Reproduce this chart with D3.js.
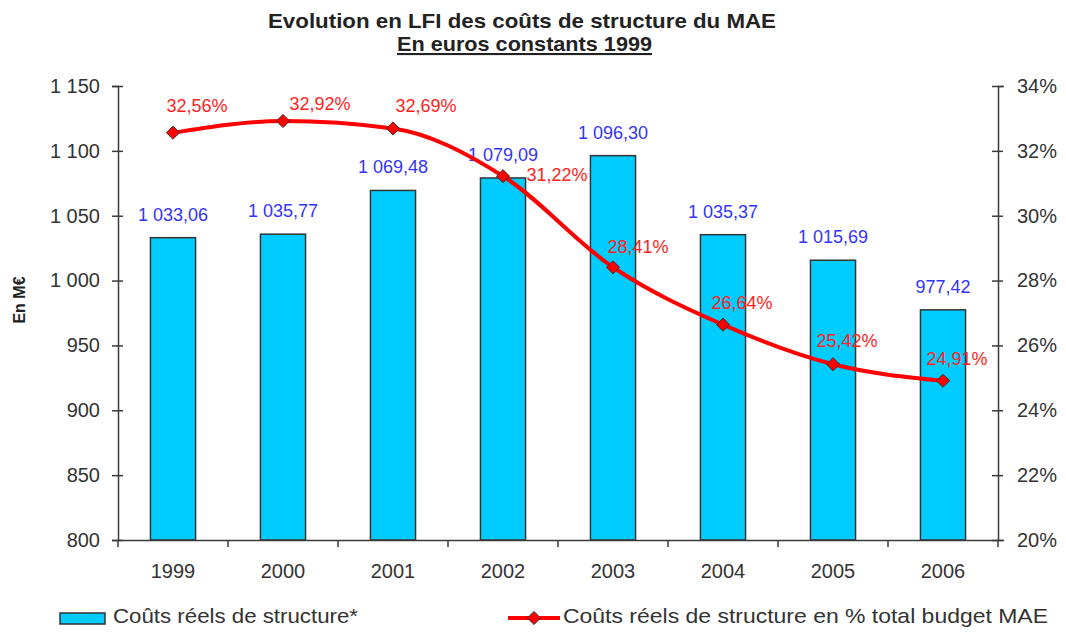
<!DOCTYPE html>
<html>
<head>
<meta charset="utf-8">
<script src="https://cdn.jsdelivr.net/npm/d3@7"></script>
<style>
  body { margin: 0; background: #fff; }
  svg text { font-family: "Liberation Sans", Arial, sans-serif; }
</style>
</head>
<body>
<div id="chart"></div>
<script>
// data
const years = ["1999", "2000", "2001", "2002", "2003", "2004", "2005", "2006"];
const costs = [1033.06, 1035.77, 1069.48, 1079.09, 1096.30, 1035.37, 1015.69, 977.42];
const shares = [32.56, 32.92, 32.69, 31.22, 28.41, 26.64, 25.42, 24.91];
const leftTicks = [800, 850, 900, 950, 1000, 1050, 1100, 1150];
const rightTicks = [20, 22, 24, 26, 28, 30, 32, 34];

const fr = d3.formatLocale({ decimal: ",", thousands: " ", grouping: [3], currency: ["", " €"] });
const fmtInt = fr.format(",d");
const fmtVal = fr.format(",.2f");
const fmtPct = fr.format(".2f");

let width = 1066, height = 632;
let margin = { top: 86, right: 68, bottom: 92, left: 118 };
let w = width - margin.left - margin.right,
    h = height - margin.top - margin.bottom;

let svg = d3.select('#chart').append('svg')
  .attr('width', width)
  .attr('height', height);

let g = svg.append('g')
  .attr('transform', 'translate(' + margin.left + ',' + margin.top + ')');

let x = d3.scaleBand().domain(years).range([0, w]).paddingInner(0.59).paddingOuter(0.295);
let y = d3.scaleLinear().domain([800, 1150]).range([h, 0]);
let y2 = d3.scaleLinear().domain([20, 34]).range([h, 0]);

const axisColor = '#3a3a3a';
const textColor = '#333';

// title (the original font is a bit wider than Arial, hence textLength)
svg.append('text')
  .attr('x', 268).attr('y', 28)
  .attr('textLength', 508).attr('lengthAdjust', 'spacingAndGlyphs')
  .style('font-size', '21px').style('font-weight', 'bold').style('fill', '#222')
  .text('Evolution en LFI des coûts de structure du MAE');
svg.append('text')
  .attr('x', 397).attr('y', 51)
  .attr('textLength', 255).attr('lengthAdjust', 'spacingAndGlyphs')
  .style('font-size', '21px').style('font-weight', 'bold').style('fill', '#222')
  .style('text-decoration', 'underline')
  .text('En euros constants 1999');

// bars
g.selectAll('rect.bar')
  .data(costs)
  .enter().append('rect')
  .attr('class', 'bar')
  .attr('x', (d, i) => x(years[i]))
  .attr('y', d => y(d))
  .attr('width', x.bandwidth())
  .attr('height', d => h - y(d))
  .attr('fill', '#00ccff')
  .attr('stroke', '#333')
  .attr('stroke-width', 1.5);

// bar labels
g.selectAll('text.val')
  .data(costs)
  .enter().append('text')
  .attr('class', 'val')
  .attr('x', (d, i) => x(years[i]) + x.bandwidth() / 2)
  .attr('y', d => y(d) - 17)
  .attr('text-anchor', 'middle')
  .style('font-size', '18px').style('fill', '#3333ff')
  .text(d => fmtVal(d));

// left axis
let yAxis = d3.axisLeft(y).tickValues(leftTicks).tickSize(6).tickPadding(12).tickFormat(fmtInt);
let gy = g.append('g').call(yAxis);
gy.select('.domain').attr('stroke', axisColor).attr('stroke-width', 1.5);
gy.selectAll('.tick line').attr('x1', -6).attr('x2', 5).attr('stroke', axisColor).attr('stroke-width', 1.5);
gy.selectAll('.tick text').style('font-size', '20px').style('fill', textColor).style('font-family', '"Liberation Sans", Arial, sans-serif');

// right axis
let y2Axis = d3.axisRight(y2).tickValues(rightTicks).tickSize(6).tickPadding(13).tickFormat(d => d + '%');
let gy2 = g.append('g').attr('transform', 'translate(' + w + ',0)').call(y2Axis);
gy2.select('.domain').attr('stroke', axisColor).attr('stroke-width', 1.5);
gy2.selectAll('.tick line').attr('x1', -6).attr('x2', 5).attr('stroke', axisColor).attr('stroke-width', 1.5);
gy2.selectAll('.tick text').style('font-size', '20px').style('fill', textColor).style('font-family', '"Liberation Sans", Arial, sans-serif');

// bottom axis: labels at band centres, ticks at band edges
let xAxis = d3.axisBottom(x).tickSize(0).tickPadding(24);
let gx = g.append('g').attr('transform', 'translate(0,' + h + ')').call(xAxis);
gx.select('.domain').attr('stroke', axisColor).attr('stroke-width', 1.5);
gx.selectAll('.tick text').style('font-size', '20px').style('fill', textColor).style('font-family', '"Liberation Sans", Arial, sans-serif');
gx.selectAll('line.edge')
  .data(d3.range(years.length + 1))
  .enter().append('line')
  .attr('class', 'edge')
  .attr('x1', i => i * x.step()).attr('x2', i => i * x.step())
  .attr('y1', 0).attr('y2', 7)
  .attr('stroke', axisColor).attr('stroke-width', 1.5);

// y title
svg.append('text')
  .attr('transform', 'translate(25,300) rotate(-90)')
  .attr('text-anchor', 'middle')
  .style('font-size', '16px').style('font-weight', 'bold').style('fill', '#222')
  .text('En M€');

// share line
let line = d3.line()
  .x((d, i) => x(years[i]) + x.bandwidth() / 2)
  .y(d => y2(d))
  .curve(d3.curveMonotoneX);

g.append('path')
  .datum(shares)
  .attr('fill', 'none')
  .attr('stroke', '#ff0000')
  .attr('stroke-width', 4)
  .attr('d', line);

let diamond = d3.symbol().type(d3.symbolDiamond2).size(110);
g.selectAll('path.mark')
  .data(shares)
  .enter().append('path')
  .attr('class', 'mark')
  .attr('d', diamond)
  .attr('transform', (d, i) => 'translate(' + (x(years[i]) + x.bandwidth() / 2) + ',' + y2(d) + ')')
  .attr('fill', '#ff0000')
  .attr('stroke', '#333')
  .attr('stroke-width', 1);

// share labels, nudged like the original
const pctNudge = [[24, -21], [37, -11], [33, -16], [54, 5], [25, -14], [19, -16], [14, -17], [14, -16]];
g.selectAll('text.pct')
  .data(shares)
  .enter().append('text')
  .attr('class', 'pct')
  .attr('x', (d, i) => x(years[i]) + x.bandwidth() / 2 + pctNudge[i][0])
  .attr('y', (d, i) => y2(d) + pctNudge[i][1])
  .attr('text-anchor', 'middle')
  .style('font-size', '18px').style('fill', '#ff2222')
  .text(d => fmtPct(d) + '%');

// legend
let leg = svg.append('g').attr('transform', 'translate(0,618)');
leg.append('rect')
  .attr('x', 60).attr('y', -5).attr('width', 45).attr('height', 11)
  .attr('fill', '#00ccff').attr('stroke', '#333').attr('stroke-width', 1.5);
leg.append('text')
  .attr('x', 113).attr('y', 5)
  .attr('textLength', 245).attr('lengthAdjust', 'spacingAndGlyphs')
  .style('font-size', '21px').style('fill', textColor)
  .text('Coûts réels de structure*');
leg.append('line')
  .attr('x1', 508).attr('x2', 560).attr('y1', 0).attr('y2', 0)
  .attr('stroke', '#ff0000').attr('stroke-width', 4);
leg.append('path')
  .attr('d', diamond)
  .attr('transform', 'translate(534,0)')
  .attr('fill', '#ff0000').attr('stroke', '#333').attr('stroke-width', 1);
leg.append('text')
  .attr('x', 563).attr('y', 5)
  .attr('textLength', 485).attr('lengthAdjust', 'spacingAndGlyphs')
  .style('font-size', '21px').style('fill', textColor)
  .text('Coûts réels de structure en % total budget MAE');
</script>
</body>
</html>
